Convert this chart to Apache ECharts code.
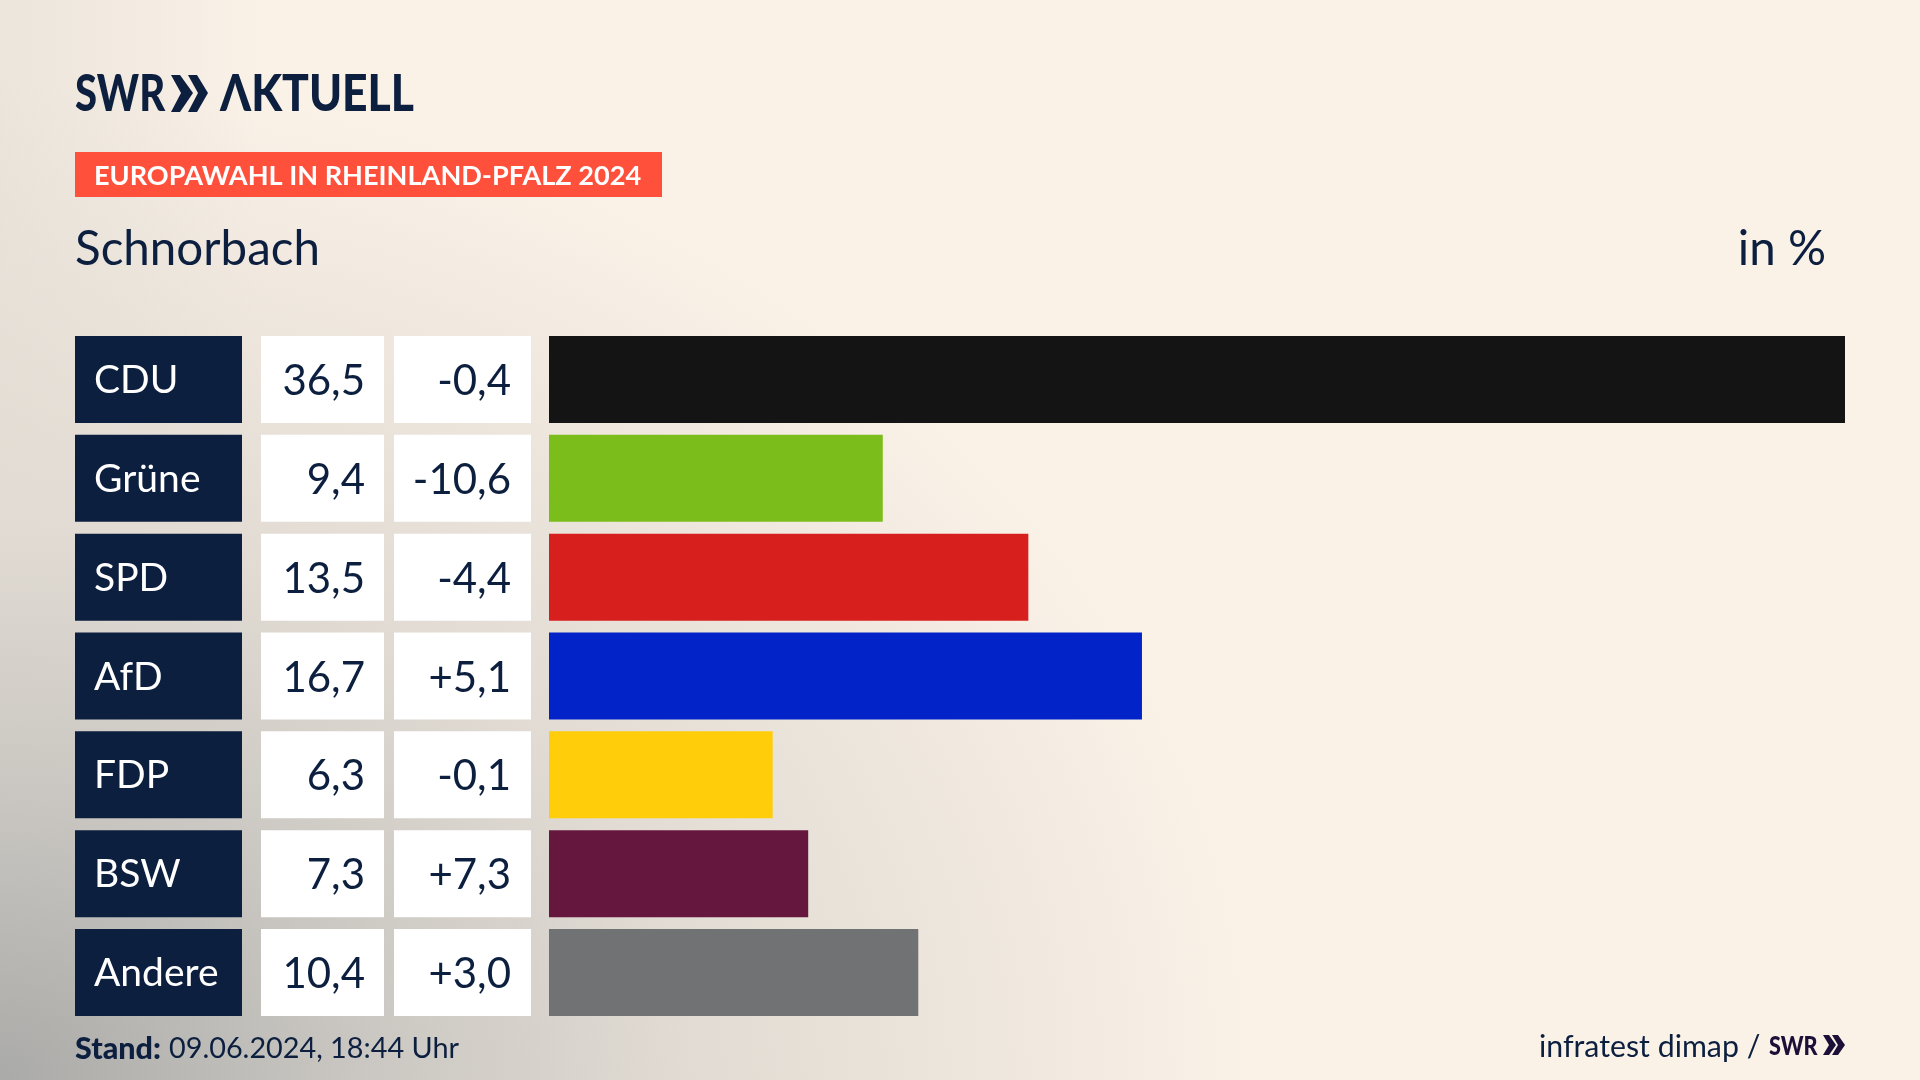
<!DOCTYPE html>
<html>
<head>
<meta charset="utf-8">
<title>Europawahl Schnorbach</title>
<script src="https://cdn.jsdelivr.net/npm/echarts@6/dist/echarts.min.js"></script>
<style>
html, body { margin: 0; padding: 0; width: 1920px; height: 1080px; overflow: hidden; }
body {
	background-color: #faf1e7;
	background-image:
		radial-gradient(ellipse 1250px 1000px at 0 1080px, #aaaaa8 0%, #c9c6c1 28%, #e1dbd3 55%, rgba(250,241,231,0) 100%),
		linear-gradient(90deg, #ece5dc 0, rgba(250,241,231,0) 260px);
}
#chart { width: 1920px; height: 1080px; }
</style>
</head>
<body>
<div id="chart"></div>
<script>
var parties = ['CDU', 'Grüne', 'SPD', 'AfD', 'FDP', 'BSW', 'Andere'];
var shares = [36.5, 9.4, 13.5, 16.7, 6.3, 7.3, 10.4];
var diffs = [-0.4, -10.6, -4.4, 5.1, -0.1, 7.3, 3.0];
var colors = ['#141414', '#7bbd1a', '#d7201e', '#0123c8', '#ffcd0a', '#66173e', '#707274'];

var navy = '#0c1f3f';
var font = 'Lato';

function fmt(v) {
	return v.toFixed(1).replace('.', ',');
}
function fmtDiff(v) {
	return (v > 0 ? '+' : '') + fmt(v);
}

var myChart = echarts.init(document.getElementById('chart'), null, { renderer: 'canvas' });

// the three table columns left of the bars
function renderCells(params, api) {
	var i = api.value(0);
	var yc = api.coord([0, i])[1];
	var h = 87;
	var top = yc - h / 2;
	var base = { fontFamily: font, fontSize: 42, verticalAlign: 'middle' };
	return {
		type: 'group',
		children: [
			{ type: 'rect', shape: { x: 75, y: top, width: 167, height: h }, style: { fill: navy } },
			{ type: 'rect', shape: { x: 261, y: top, width: 123, height: h }, style: { fill: '#fff' } },
			{ type: 'rect', shape: { x: 394, y: top, width: 137, height: h }, style: { fill: '#fff' } },
			{ type: 'text', style: Object.assign({}, base, { x: 94, y: yc + 1, text: parties[i], fill: '#fff', align: 'left', fontSize: 39 }) },
			{ type: 'text', style: Object.assign({}, base, { x: 365, y: yc + 2, text: fmt(shares[i]), fill: navy, align: 'right' }) },
			{ type: 'text', style: Object.assign({}, base, { x: 511, y: yc + 2, text: fmtDiff(diffs[i]), fill: navy, align: 'right' }) }
		]
	};
}

var option = {
	animation: false,
	grid: { left: 549, right: 75, top: 330, height: 692 },
	xAxis: { type: 'value', min: 0, max: 36.5, show: false },
	yAxis: { type: 'category', inverse: true, data: parties, show: false },
	series: [
		{
			type: 'bar',
			barWidth: 87,
			data: shares.map(function (v, i) {
				return { value: v, itemStyle: { color: colors[i] } };
			})
		},
		{
			type: 'custom',
			coordinateSystem: 'cartesian2d',
			clip: false,
			encode: { x: 1, y: 0 },
			data: parties.map(function (p, i) { return [i, 0]; }),
			renderItem: renderCells
		}
	],
	graphic: [
		// logo
		{ type: 'text', x: 75, y: 68, scaleX: 0.77, style: { text: 'SWR', font: '900 52px ' + font, fill: navy } },
		{ type: 'polygon', shape: { points: [[171, 75], [180, 75], [193, 93], [180, 112], [171, 112], [181, 93]] }, style: { fill: navy } },
		{ type: 'polygon', shape: { points: [[188, 75], [197, 75], [208, 93], [197, 112], [188, 112], [198, 93]] }, style: { fill: navy } },
		{ type: 'text', x: 220, y: 68, scaleX: 0.855, style: { text: 'ΛKTUELL', font: '900 52px ' + font, fill: navy } },
		// header
		{ type: 'rect', shape: { x: 75, y: 152, width: 587, height: 45 }, style: { fill: '#ff503c' } },
		{ type: 'text', left: 94, top: 163, style: { text: 'EUROPAWAHL IN RHEINLAND-PFALZ 2024', font: 'bold 27.1px ' + font, fill: '#fff' } },
		{ type: 'text', left: 75, top: 226, style: { text: 'Schnorbach', font: '47.5px ' + font, fill: navy } },
		{ type: 'text', right: 94, top: 226, style: { text: 'in %', font: '47.5px ' + font, fill: navy } },
		// footer
		{ type: 'text', left: 75, top: 1034, style: { text: 'Stand:', font: '900 30.5px ' + font, fill: navy } },
		{ type: 'text', left: 169, top: 1034, style: { text: '09.06.2024, 18:44 Uhr', font: '28.8px ' + font, fill: navy } },
		{ type: 'text', left: 1539, top: 1032, style: { text: 'infratest dimap /', font: '30.3px ' + font, fill: navy } },
		{ type: 'text', x: 1769, y: 1033, scaleX: 0.8, style: { text: 'SWR', font: '900 27px ' + font, fill: '#1c1038' } },
		{ type: 'polygon', shape: { points: [[1823, 1035], [1829, 1035], [1836, 1045], [1829, 1055], [1823, 1055], [1829, 1045]] }, style: { fill: '#1c1038' } },
		{ type: 'polygon', shape: { points: [[1832, 1035], [1838, 1035], [1845, 1045], [1838, 1055], [1832, 1055], [1838, 1045]] }, style: { fill: '#1c1038' } }
	]
};

myChart.setOption(option);
</script>
</body>
</html>
